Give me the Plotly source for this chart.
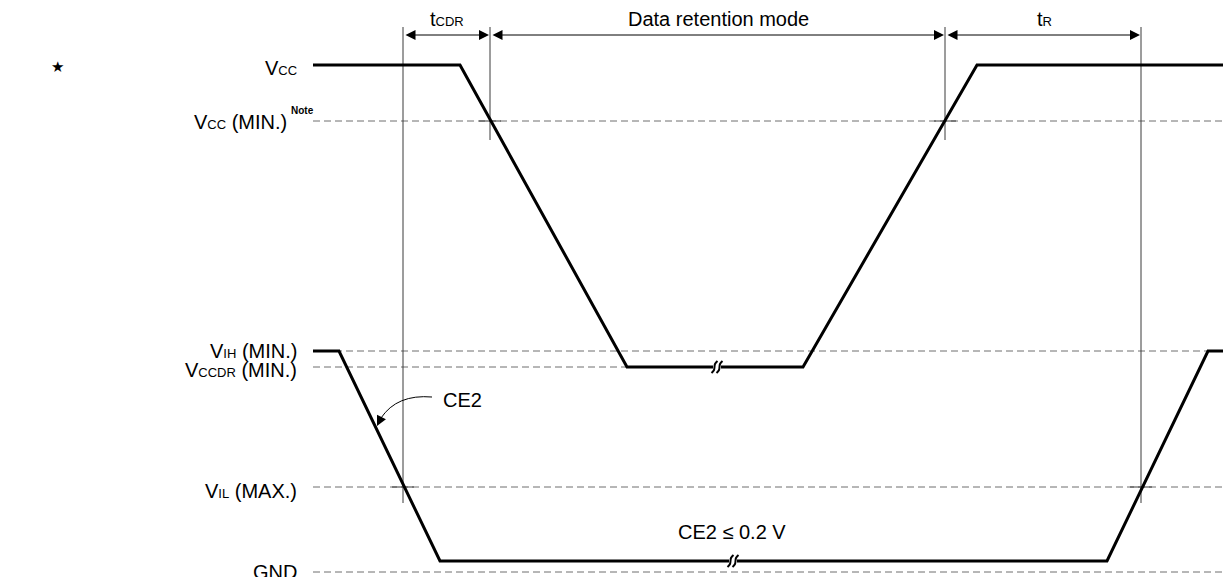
import plotly.graph_objects as go

# ---- data (diagram units = pixel-like grid) ----
SUB = "font-size:13px"
level_labels = ["V<span style='%s'>CC</span>" % SUB,
                "V<span style='%s'>CC</span> (MIN.)" % SUB,
                "V<span style='%s'>IH</span> (MIN.)" % SUB,
                "V<span style='%s'>CCDR</span> (MIN.)" % SUB,
                "V<span style='%s'>IL</span> (MAX.)" % SUB,
                "GND"]
level_y = [65, 121, 351, 367, 487, 572]
label_y_pos = [68, 122, 351, 370, 491, 572]
note_text = "<b>Note</b>"

ref_start = 313
ref_end = 1231
vccdr_end = 627

vcc_x = [313, 460, 627, 803, 977, 1231]
vcc_y = [65, 65, 367, 367, 65, 65]

ce2_x = [313, 339, 440, 1107, 1208, 1231]
ce2_y = [351, 351, 561, 561, 351, 351]

break_x = [717, 733]
break_y = [367, 561]

mark_x = [403, 490, 945, 1141]
mark_top = [27, 27, 27, 27]
mark_bot = [503, 140, 140, 503]
cross_y = [487, 121, 121, 487]

arrow_y = 35
span_labels = ["t<span style='%s'>CDR</span>" % SUB, "Data retention mode",
               "t<span style='%s'>R</span>" % SUB]
span_label_x = [447, 718, 1044]
label_y = 19

fig = go.Figure()
FONT = "Liberation Sans, Arial, sans-serif"

# dashed reference levels
dash_ends = [None, ref_end, ref_end, vccdr_end, ref_end, ref_end]
for y, e in zip(level_y, dash_ends):
    if e is None:
        continue
    fig.add_trace(go.Scatter(x=[ref_start, e], y=[y, y], mode="lines",
                             line=dict(color="#6e6e6e", width=1, dash="7px,4px"),
                             hoverinfo="skip", showlegend=False))

# vertical timing markers
for x, t, b in zip(mark_x, mark_top, mark_bot):
    fig.add_trace(go.Scatter(x=[x, x], y=[t, b], mode="lines",
                             line=dict(color="#3a3a3a", width=1),
                             hoverinfo="skip", showlegend=False))
# crossing ticks
for x, y in zip(mark_x, cross_y):
    fig.add_trace(go.Scatter(x=[x - 11, x + 11], y=[y, y], mode="lines",
                             line=dict(color="#3a3a3a", width=1),
                             hoverinfo="skip", showlegend=False))

# waveforms
for xs, ys in [(vcc_x, vcc_y), (ce2_x, ce2_y)]:
    fig.add_trace(go.Scatter(x=xs, y=ys, mode="lines",
                             line=dict(color="black", width=3),
                             hoverinfo="skip", showlegend=False))

# break marks
for bx, by in zip(break_x, break_y):
    fig.add_trace(go.Scatter(x=[bx - 4, bx + 4], y=[by, by], mode="lines",
                             line=dict(color="white", width=6),
                             hoverinfo="skip", showlegend=False))
    for off in (-2.5, 2.5):
        cx = bx + off
        fig.add_trace(go.Scatter(x=[cx - 3, cx - 0.5, cx + 0.5, cx + 3],
                                 y=[by + 6, by + 3, by - 3, by - 6],
                                 mode="lines", line=dict(color="black", width=2, shape="spline"),
                                 hoverinfo="skip", showlegend=False))

annotations = []
# double arrows
for i in range(3):
    a, b = mark_x[i], mark_x[i + 1]
    annotations.append(dict(x=b - 1, y=arrow_y, ax=a + 1, ay=arrow_y, xref="x", yref="y",
                            axref="x", ayref="y", text="", showarrow=True,
                            arrowhead=2, arrowside="end+start", arrowsize=2,
                            arrowwidth=1, arrowcolor="black", standoff=0, startstandoff=0))
    annotations.append(dict(x=span_label_x[i], y=label_y, text=span_labels[i], showarrow=False,
                            font=dict(family=FONT, size=20, color="black"),
                            xanchor="center", yanchor="middle"))

# level labels
for i, (lab, y) in enumerate(zip(level_labels, label_y_pos)):
    annotations.append(dict(x=299 if i != 1 else 289, y=y, text=lab, showarrow=False,
                            font=dict(family=FONT, size=20, color="black"),
                            xanchor="right", yanchor="middle"))
# Note superscript
annotations.append(dict(x=289, y=110, text=note_text, showarrow=False,
                        font=dict(family=FONT, size=10, color="black"),
                        xanchor="left", yanchor="middle"))

# star
annotations.append(dict(x=57, y=67, text="★", showarrow=False,
                        font=dict(family="DejaVu Sans", size=15, color="black")))

# CE2 labels
annotations.append(dict(x=441, y=400, text="CE2", showarrow=False, xanchor="left",
                        yanchor="middle", font=dict(family=FONT, size=20, color="black")))
annotations.append(dict(x=732, y=532, text="CE2 ≤ 0.2 V", showarrow=False,
                        yanchor="middle", font=dict(family=FONT, size=20, color="black")))
# curved callout arrowhead
annotations.append(dict(x=377, y=426, ax=382, ay=416, xref="x", yref="y", axref="x", ayref="y",
                        text="", showarrow=True, arrowhead=2, arrowsize=2, arrowwidth=1,
                        arrowcolor="black", standoff=0))

shapes = [dict(type="path", path="M 432 397 Q 397 394 381 418", xref="x", yref="y",
               line=dict(color="black", width=1))]

fig.update_layout(
    width=1223, height=569, margin=dict(l=0, r=0, t=0, b=0),
    paper_bgcolor="white", plot_bgcolor="white",
    xaxis=dict(range=[8, 1231], visible=False, fixedrange=True),
    yaxis=dict(range=[577, 8], visible=False, fixedrange=True),
    annotations=annotations, shapes=shapes, showlegend=False,
)

fig.write_html("out.html")
